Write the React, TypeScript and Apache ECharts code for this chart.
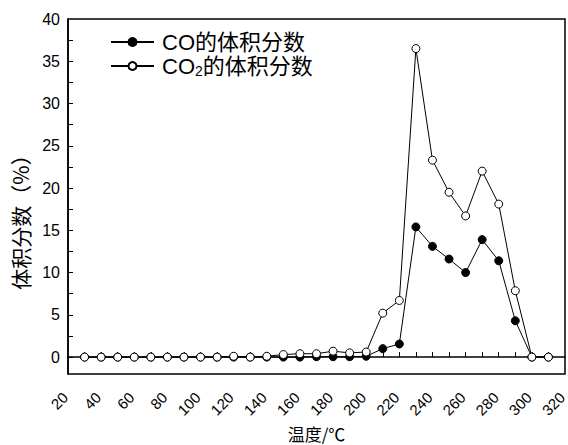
import React, { useEffect, useRef } from "react";
import * as echarts from "echarts";

const temperatures = [30, 40, 50, 60, 70, 80, 90, 100, 110, 120, 130, 140, 150, 160, 170, 180, 190, 200, 210, 220, 230, 240, 250, 260, 270, 280, 290, 300, 310];
const coValues = [0, 0, 0, 0, 0, 0, 0, 0, 0, 0, 0, 0, 0, 0, 0.05, 0.05, 0.05, 0.1, 1.0, 1.55, 15.4, 13.1, 11.6, 10.0, 13.9, 11.4, 4.3, 0, 0];
const co2Values = [0, 0, 0, 0, 0, 0, 0, 0, 0, 0.1, 0, 0.1, 0.3, 0.4, 0.4, 0.7, 0.5, 0.6, 5.2, 6.7, 36.5, 23.3, 19.5, 16.7, 22.0, 18.1, 7.85, 0, 0];
const xTickValues = [30, 40, 50, 60, 70, 80, 90, 100, 110, 120, 130, 140, 150, 160, 170, 180, 190, 200, 210, 220, 230, 240, 250, 260, 270, 280, 290, 300, 310];
const yLabelValues = [0, 5, 10, 15, 20, 25, 30, 35, 40];
const yTickValues = [0, 2.5, 5, 7.5, 10, 12.5, 15, 17.5, 20, 22.5, 25, 27.5, 30, 32.5, 35, 37.5];

const CO_NAME = "CO的体积分数";
const CO2_NAME = "CO2的体积分数";
const Y_NAME = "体积分数（%）";
const X_NAME = "温度/℃";
const FONT = "Arial, 'Liberation Sans', 'Noto Sans CJK SC', sans-serif";
const CJK = "'Noto Sans CJK SC', sans-serif";

export default function App() {
  const ref = useRef<HTMLDivElement>(null);
  useEffect(() => {
    if (!ref.current) return;
    const chart = echarts.init(ref.current, undefined, { renderer: "svg" });
    const coData = temperatures.map((t, i) => [t, coValues[i]]);
    const co2Data = temperatures.map((t, i) => [t, co2Values[i]]);
    chart.setOption({
      animation: false,
      backgroundColor: "#fff",
      textStyle: { fontFamily: FONT, color: "#000" },
      grid: {
        left: 68,
        right: 3,
        top: 19,
        bottom: 71,
        show: true,
        borderColor: "#000",
        borderWidth: 1.5,
        containLabel: false,
        outerBoundsMode: "none",
      },
      graphic: [
        {
          type: "text",
          x: 20,
          y: 217,
          rotation: Math.PI / 2,
          style: {
            text: Y_NAME,
            fontSize: 21,
            fontFamily: CJK,
            fill: "#000",
            align: "center",
            verticalAlign: "middle",
          },
        },
      ],
      legend: {
        orient: "vertical",
        left: 105,
        top: 26,
        itemWidth: 43,
        itemHeight: 10,
        itemGap: 2,
        data: [CO_NAME, CO2_NAME],
        formatter: (name: string) => (name === CO2_NAME ? "CO{sub|2}的体积分数" : name),
        textStyle: {
          fontFamily: FONT,
          fontSize: 22,
          color: "#000",
          padding: [0, 0, 0, 3],
          rich: {
            sub: { fontSize: 14, fontFamily: FONT, color: "#000", verticalAlign: "bottom", padding: [9, 0, 0, 0] },
          },
        },
      },
      xAxis: {
        type: "value",
        min: 20,
        max: 320,
        interval: 20,
        name: X_NAME,
        nameLocation: "middle",
        nameGap: 46,
        nameTextStyle: { fontSize: 17, lineHeight: 17, color: "#000", fontFamily: CJK },
        axisLine: { show: true, lineStyle: { color: "#000", width: 1.5 } },
        axisTick: { show: true, inside: true, length: 5, customValues: xTickValues, lineStyle: { color: "#000", width: 1 } },
        minorTick: { show: false },
        splitLine: { show: false },
        axisLabel: {
          rotate: 45,
          fontSize: 15,
          color: "#000",
          margin: 18,
          padding: [0, 4, 0, 0],
          showMinLabel: true,
          showMaxLabel: true,
          fontFamily: FONT,
        },
      },
      yAxis: {
        type: "value",
        min: -2,
        max: 40,
        axisLine: { show: true, lineStyle: { color: "#000", width: 1.5 } },
        axisTick: { show: true, inside: true, length: 5, customValues: yTickValues, lineStyle: { color: "#000", width: 1 } },
        splitLine: { show: false },
        axisLabel: { fontSize: 16, color: "#000", margin: 8, customValues: yLabelValues, fontFamily: FONT },
      },
      series: [
        {
          name: CO_NAME,
          type: "line",
          data: coData,
          symbol: "circle",
          symbolSize: 8,
          lineStyle: { color: "#000", width: 1 },
          itemStyle: { color: "#000", borderColor: "#000", borderWidth: 1 },
          z: 2,
        },
        {
          name: CO2_NAME,
          type: "line",
          data: co2Data,
          symbol: "circle",
          symbolSize: 8,
          lineStyle: { color: "#000", width: 1 },
          itemStyle: { color: "#fff", borderColor: "#000", borderWidth: 1 },
          z: 3,
        },
      ],
    });
    return () => chart.dispose();
  }, []);
  return <div ref={ref} style={{ position: "absolute", left: 0, top: 0, width: 568, height: 445 }} />;
}
